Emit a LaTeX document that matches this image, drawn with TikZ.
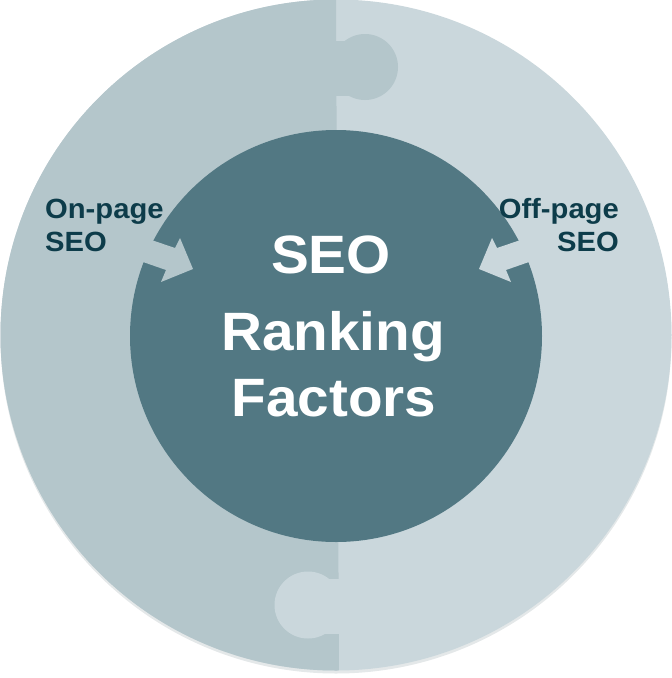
\documentclass[tikz,border=0pt]{standalone}
\usepackage{fontspec}
\setmainfont{Liberation Sans}[FakeStretch=1.05]
\definecolor{ringL}{HTML}{B4C6CB}
\definecolor{ringR}{HTML}{CAD7DC}
\definecolor{core}{HTML}{527883}
\definecolor{labtxt}{HTML}{0D3C4A}
\definecolor{shadowc}{HTML}{E4E8E9}
\tikzset{
  big/.style={font=\bfseries\fontsize{54}{62}\selectfont, text=white, inner sep=0pt, anchor=base},
  lab/.style={font=\bfseries\fontsize{27.8}{32}\selectfont, text=labtxt, inner sep=0pt},
}
\begin{document}
\begin{tikzpicture}[x=1pt,y=-1pt]
\useasboundingbox (0,0) rectangle (672,678);
% soft shadow
\fill[shadowc] (336,338) circle (335.5);
% outer ring
\fill[ringR] (336,335) circle (335.5);
\begin{scope}
  \clip (336,335) circle (335.5);
  \fill[ringL] (-10,-10) -- (336,-10) -- (339,690) -- (-10,690) -- cycle;
  % top tab (left piece into right)
  \fill[ringL] (330,41) rectangle (350,96);
  \fill[ringL] (365,67) circle (33);
  % bottom tab (right piece into left)
  \fill[ringR] (322,579) rectangle (345,634);
  \fill[ringR] (308,605) circle (33.5);
\end{scope}
% core circle
\fill[core] (336,336) circle (206);
% arrows
\fill[ringL] (128,232) -- (175,248) -- (180,238) -- (193,269) -- (161,282) -- (166,270) -- (120,254) -- cycle;
\fill[ringR] (544,232) -- (497,248) -- (492,238) -- (479,269) -- (511,282) -- (506,270) -- (552,254) -- cycle;
% centre text
\node[big] (t1) at (331,273) {SEO};
\node[big] (t2) at (333,350) {Ranking};
\node[big] (t3) at (334,416) {Factors};
% side labels
\node[lab, anchor=base west] (l1) at (45,218) {On-page};
\node[lab, anchor=base west] (l2) at (45,251) {SEO};
\node[lab, anchor=base east] (r1) at (619,218) {Off-page};
\node[lab, anchor=base east] (r2) at (619,251) {SEO};
\end{tikzpicture}
\end{document}
